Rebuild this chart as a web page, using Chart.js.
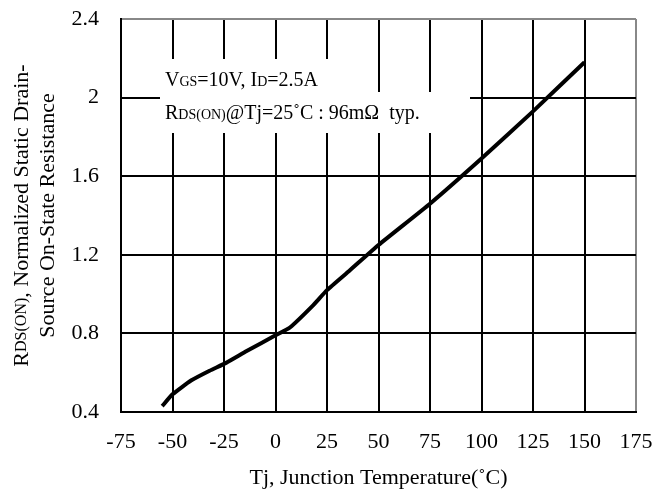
<!DOCTYPE html>
<html>
<head>
<meta charset="utf-8">
<script src="https://cdn.jsdelivr.net/npm/chart.js@4/dist/chart.umd.min.js"></script>
<style>
	body{margin:0;background:#fff;}
	#contenedor{width:667px;height:495px;position:relative;}
</style>
</head>
<body>
<div id="contenedor"><canvas id="canvas-rds"></canvas></div>
<script>
// Tj (C) vs RDS(ON) normalizada
var temperaturas = [-55, -50, -41, -32, -24, -14, 0, 7, 18, 25, 36, 50, 75, 100, 125, 150];
var resistencias = [0.43, 0.49, 0.56, 0.61, 0.65, 0.71, 0.79, 0.83, 0.94, 1.02, 1.12, 1.25, 1.46, 1.69, 1.93, 2.18];
var ticksX = [-75, -50, -25, 0, 25, 50, 75, 100, 125, 150, 175];
var ticksY = [0.4, 0.8, 1.2, 1.6, 2, 2.4];

var fuente = "'Liberation Serif', 'Times New Roman', serif";

var componentObj = {
	methods: {
		init: function(){
			componentObj.methods.insertarGrafico("canvas-rds");
		},
		// dibuja trozos de texto con distinto tamano uno detras de otro
		textoMixto: function(ctx, trozos, x, y, centrado){
			var total = 0;
			trozos.forEach(function(t){
				ctx.font = t[1] + "px " + fuente;
				total += ctx.measureText(t[0]).width;
			});
			var cx = centrado ? x - total / 2 : x;
			trozos.forEach(function(t){
				ctx.font = t[1] + "px " + fuente;
				ctx.fillText(t[0], cx, y);
				cx += ctx.measureText(t[0]).width;
			});
		},
		notas: {
			id: "notas",
			beforeDatasetsDraw: function(chart){
				var ctx = chart.ctx;
				ctx.save();
				ctx.fillStyle = "#fff";
				ctx.fillRect(160, 59, 190, 74);
				ctx.fillRect(350, 92, 120, 41);
				ctx.fillStyle = "#000";
				ctx.textBaseline = "alphabetic";
				componentObj.methods.textoMixto(ctx, [["V", 20], ["GS", 14], ["=10V, I", 20], ["D", 14], ["=2.5A", 20]], 165, 86, false);
				componentObj.methods.textoMixto(ctx, [["R", 20], ["DS(ON)", 14], ["@Tj=25\u02daC : 96m\u03a9  typ.", 20]], 165, 119, false);
				ctx.restore();
			},
			afterDraw: function(chart){
				var ctx = chart.ctx;
				var cy = (chart.chartArea.top + chart.chartArea.bottom) / 2;
				ctx.save();
				ctx.fillStyle = "#000";
				ctx.textBaseline = "middle";
				ctx.translate(22, cy);
				ctx.rotate(-Math.PI / 2);
				componentObj.methods.textoMixto(ctx, [["R", 22], ["DS(ON)", 16], [", Normalized Static Drain-", 22]], 0, 0, true);
				ctx.translate(0, 26);
				componentObj.methods.textoMixto(ctx, [["Source On-State Resistance", 22]], 0, 0, true);
				ctx.restore();
			}
		},
		insertarGrafico: function(id){
			var ctx = document.getElementById(id).getContext("2d");
			var puntos = temperaturas.map(function(t, i){ return {x: t, y: resistencias[i]}; });
			var config = {
				type: 'line',
				data: {
					datasets: [{
						data: puntos,
						borderColor: "#000",
						borderWidth: 4,
						pointRadius: 0,
						tension: 0.15,
						fill: false
					}]
				},
				options: {
					responsive: true,
					maintainAspectRatio: false,
					animation: false,
					layout: {padding: {top: 19, right: 31, left: 0, bottom: 0}},
					plugins: {legend: {display: false}, tooltip: {enabled: false}},
					scales: {
						x: {
							type: 'linear',
							min: -75,
							max: 175,
							afterBuildTicks: function(s){ s.ticks = ticksX.map(function(v){ return {value: v}; }); },
							afterFit: function(s){ s.height = 83; },
							grid: {
								color: function(c){ return (c.tick && c.tick.value == 175) ? "#888" : "#000"; },
								lineWidth: 2,
								drawTicks: true,
								tickLength: 17,
								tickColor: "rgba(0,0,0,0)"
							},
							border: {color: "#000", width: 2},
							ticks: {color: "#000", padding: 0, maxRotation: 0, autoSkip: false, font: {family: fuente, size: 22}},
							title: {display: true, text: "Tj, Junction Temperature(\u02daC)", color: "#000", font: {family: fuente, size: 22}, padding: {top: 0, bottom: 4}}
						},
						y: {
							type: 'linear',
							min: 0.4,
							max: 2.4,
							afterBuildTicks: function(s){ s.ticks = ticksY.map(function(v){ return {value: v}; }); },
							afterFit: function(s){ s.width = 121; },
							grid: {
								color: function(c){ return (c.tick && c.tick.value == 2.4) ? "#888" : "#000"; },
								lineWidth: 2,
								drawTicks: true,
								tickLength: 22,
								tickColor: "rgba(0,0,0,0)"
							},
							border: {color: "#000", width: 2},
							ticks: {color: "#000", padding: 0, autoSkip: false, font: {family: fuente, size: 22}, callback: function(v){ return String(v); }}
						}
					}
				},
				plugins: [componentObj.methods.notas]
			};
			var chart = new Chart(ctx, config);
		}
	}
};
componentObj.methods.init();
</script>
</body>
</html>
